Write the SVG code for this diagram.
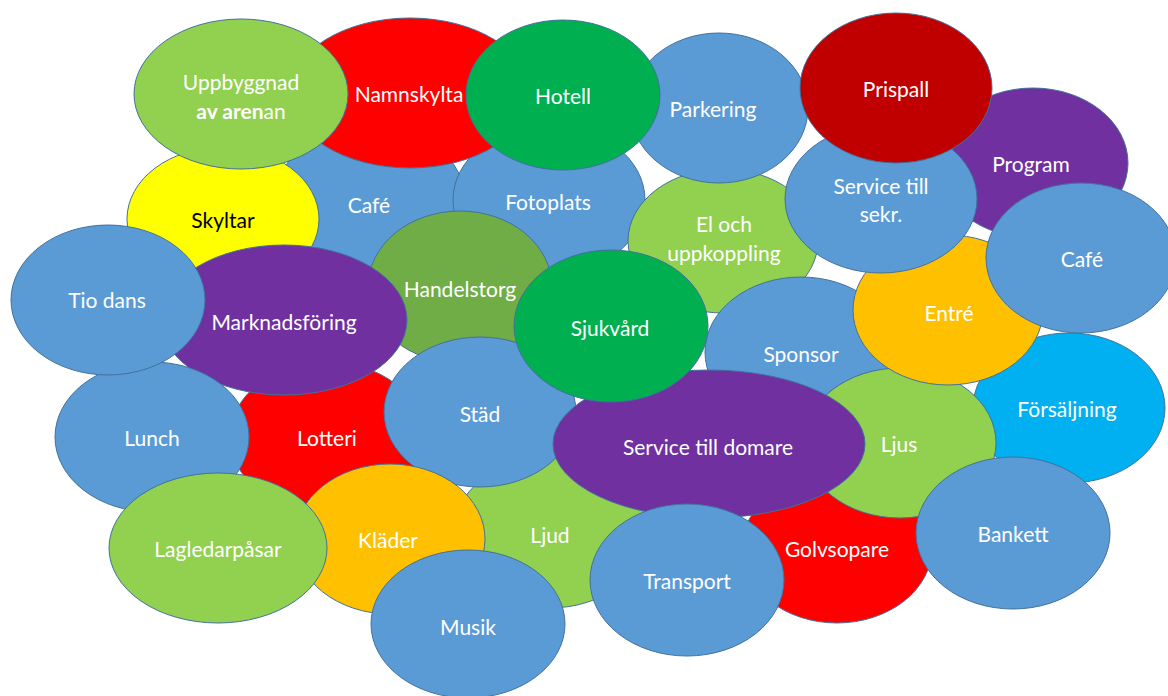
<svg xmlns="http://www.w3.org/2000/svg" width="1168" height="696" viewBox="0 0 1168 696">
<style>
ellipse{stroke:#41719C;stroke-width:1}
text{font-family:Lato,"Open Sans","Liberation Sans",sans-serif;font-size:21px;fill:#FFFFFF;text-anchor:middle;dominant-baseline:central}
.blue{fill:#5B9BD5}.lg{fill:#92D050}.red{fill:#FF0000}.dred{fill:#C00000}.pur{fill:#7030A0}
.yel{fill:#FFFF00}.org{fill:#FFC000}.grn{fill:#00B050}.olv{fill:#70AD47}.lb{fill:#00B0F0}
.dark{fill:#000000}
</style>
<rect width="1168" height="696" fill="#FFFFFF"/>
<g id="connectors"/>
<g id="n-cafe1"><ellipse class="blue" cx="370" cy="200" rx="95" ry="75"/><text x="369" y="204">Café</text></g>
<g id="n-fotoplats"><ellipse class="blue" cx="549" cy="200" rx="96" ry="75"/><text x="548" y="201">Fotoplats</text></g>
<g id="n-eloch"><ellipse class="lg" cx="723" cy="241" rx="95" ry="72"/><text x="724" y="223">El och</text><text x="724" y="252">uppkoppling</text></g>
<g id="n-parkering"><ellipse class="blue" cx="719" cy="108" rx="89" ry="75"/><text x="713" y="108">Parkering</text></g>
<g id="n-namnskylta"><ellipse class="red" cx="410" cy="93" rx="120" ry="75"/><text x="409" y="93">Namnskylta</text></g>
<g id="n-skyltar"><ellipse class="yel" cx="223" cy="219" rx="96" ry="72"/><text class="dark" x="223" y="219">Skyltar</text></g>
<g id="n-uppbyggnad"><ellipse class="lg" cx="241" cy="94" rx="107" ry="75"/><text x="241" y="81">Uppbyggnad</text><text x="241" y="110"><tspan font-weight="bold">av aren</tspan>an</text></g>
<g id="n-hotell"><ellipse class="grn" cx="563" cy="95" rx="97" ry="75"/><text x="563" y="95">Hotell</text></g>
<g id="n-program"><ellipse class="pur" cx="1033" cy="163" rx="95" ry="75"/><text x="1031" y="163">Program</text></g>
<g id="n-handelstorg"><ellipse class="olv" cx="460" cy="287" rx="92" ry="76"/><text x="460" y="288">Handelstorg</text></g>
<g id="n-lotteri"><ellipse class="red" cx="327" cy="437" rx="97" ry="75"/><text x="327" y="437">Lotteri</text></g>
<g id="n-marknadsforing"><ellipse class="pur" cx="284" cy="320" rx="123" ry="75"/><text x="284" y="321">Marknadsföring</text></g>
<g id="n-lunch"><ellipse class="blue" cx="152" cy="437" rx="97" ry="75"/><text x="152" y="437">Lunch</text></g>
<g id="n-tiodans"><ellipse class="blue" cx="108" cy="300" rx="97" ry="75"/><text x="107" y="299">Tio dans</text></g>
<g id="n-ljud"><ellipse class="lg" cx="550" cy="533" rx="97" ry="75"/><text x="550" y="534">Ljud</text></g>
<g id="n-stad"><ellipse class="blue" cx="480" cy="412" rx="96" ry="75"/><text x="480" y="413">Städ</text></g>
<g id="n-klader"><ellipse class="org" cx="390" cy="539" rx="95" ry="75"/><text x="388" y="539">Kläder</text></g>
<g id="n-lagledarpasar"><ellipse class="lg" cx="218" cy="548" rx="109" ry="75"/><text x="218" y="548">Lagledarpåsar</text></g>
<g id="n-musik"><ellipse class="blue" cx="468" cy="624" rx="97" ry="74"/><text x="468" y="626">Musik</text></g>
<g id="n-sponsor"><ellipse class="blue" cx="801" cy="352" rx="96" ry="75"/><text x="801" y="353">Sponsor</text></g>
<g id="n-forsaljning"><ellipse class="lb" cx="1069" cy="408" rx="96" ry="75"/><text x="1067" y="408">Försäljning</text></g>
<g id="n-golvsopare"><ellipse class="red" cx="837" cy="548" rx="95" ry="75"/><text x="837" y="548">Golvsopare</text></g>
<g id="n-ljus"><ellipse class="lg" cx="900" cy="443" rx="96" ry="75"/><text x="899" y="443">Ljus</text></g>
<g id="n-entre"><ellipse class="org" cx="948" cy="310" rx="95" ry="75"/><text x="949" y="312">Entré</text></g>
<g id="n-servicesekr"><ellipse class="blue" cx="881" cy="199" rx="96" ry="74"/><text x="881" y="185">Service till</text><text x="881" y="213">sekr.</text></g>
<g id="n-prispall"><ellipse class="dred" cx="896" cy="88" rx="96" ry="75"/><text x="896" y="88">Prispall</text></g>
<g id="n-cafe2"><ellipse class="blue" cx="1081" cy="258" rx="95" ry="75"/><text x="1082" y="258">Café</text></g>
<g id="n-servicedomare"><ellipse class="pur" cx="709" cy="444" rx="156" ry="74"/><text x="708" y="446">Service till domare</text></g>
<g id="n-sjukvard"><ellipse class="grn" cx="611" cy="326" rx="97" ry="76"/><text x="610" y="327">Sjukvård</text></g>
<g id="n-transport"><ellipse class="blue" cx="687" cy="580" rx="97" ry="76"/><text x="687" y="580">Transport</text></g>
<g id="n-bankett"><ellipse class="blue" cx="1013" cy="533" rx="97" ry="76"/><text x="1013" y="533">Bankett</text></g>
</svg>
